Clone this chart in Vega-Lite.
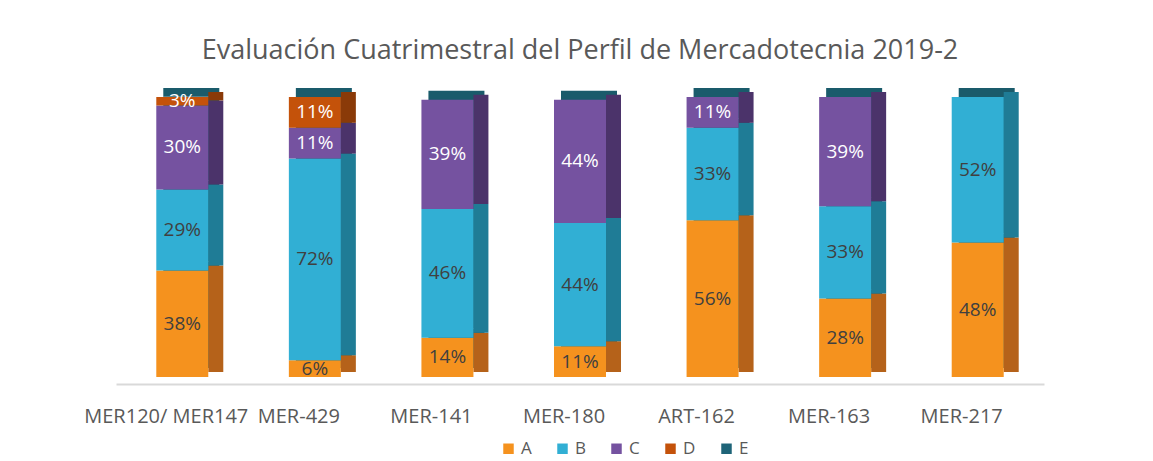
{
  "$schema": "https://vega.github.io/schema/vega-lite/v6.json",
  "width": 928,
  "height": 280,
  "autosize": {"type": "none"},
  "padding": {"left": 116, "top": 97, "right": 109, "bottom": 84},
  "background": "white",
  "title": {
    "text": "Evaluación Cuatrimestral del Perfil de Mercadotecnia 2019-2",
    "font": "Open Sans",
    "fontSize": 27,
    "fontWeight": "normal",
    "color": "#595959",
    "anchor": "middle",
    "offset": 23
  },
  "data": {
    "values": [
      {"cat": "MER120/ MER147", "series": "A", "v": 0.38},
      {"cat": "MER120/ MER147", "series": "B", "v": 0.29},
      {"cat": "MER120/ MER147", "series": "C", "v": 0.30},
      {"cat": "MER120/ MER147", "series": "D", "v": 0.03},
      {"cat": "MER-429", "series": "A", "v": 0.06},
      {"cat": "MER-429", "series": "B", "v": 0.72},
      {"cat": "MER-429", "series": "C", "v": 0.11},
      {"cat": "MER-429", "series": "D", "v": 0.11},
      {"cat": "MER-141", "series": "A", "v": 0.14},
      {"cat": "MER-141", "series": "B", "v": 0.46},
      {"cat": "MER-141", "series": "C", "v": 0.39},
      {"cat": "MER-180", "series": "A", "v": 0.11},
      {"cat": "MER-180", "series": "B", "v": 0.44},
      {"cat": "MER-180", "series": "C", "v": 0.44},
      {"cat": "ART-162", "series": "A", "v": 0.56},
      {"cat": "ART-162", "series": "B", "v": 0.33},
      {"cat": "ART-162", "series": "C", "v": 0.11},
      {"cat": "MER-163", "series": "A", "v": 0.28},
      {"cat": "MER-163", "series": "B", "v": 0.33},
      {"cat": "MER-163", "series": "C", "v": 0.39},
      {"cat": "MER-217", "series": "A", "v": 0.48},
      {"cat": "MER-217", "series": "B", "v": 0.52}
    ]
  },
  "encoding": {
    "x": {
      "field": "cat",
      "type": "nominal",
      "sort": null,
      "scale": {"paddingInner": 0.608, "paddingOuter": 0.304},
      "axis": {
        "title": null,
        "labelAngle": 0,
        "ticks": false,
        "domainColor": "#D9D9D9",
        "domainWidth": 2,
        "offset": 7,
        "labelPadding": 22,
        "labelFont": "Open Sans",
        "labelFontSize": 20,
        "labelColor": "#595959",
        "labelOffset": -16,
        "labelOverlap": false,
        "labelBound": false,
        "labelLimit": 300
      }
    },
    "y": {
      "field": "v",
      "type": "quantitative",
      "stack": "zero",
      "scale": {"domain": [0, 1], "nice": false},
      "axis": null
    },
    "order": {"field": "series", "sort": "ascending"}
  },
  "layer": [
    {
      "mark": {"type": "bar", "size": 56, "xOffset": 9, "yOffset": -9, "color": "#1A5B6B"},
      "encoding": {"detail": {"field": "series"}}
    },
    {
      "mark": {"type": "bar", "size": 15, "xOffset": 33.5, "yOffset": -5},
      "encoding": {
        "color": {
          "field": "series",
          "type": "nominal",
          "scale": {"domain": ["A", "B", "C", "D", "E"], "range": ["#B5621A", "#1F7C96", "#4B336A", "#8A3A08", "#154A58"]},
          "legend": null
        }
      }
    },
    {
      "mark": {"type": "bar", "size": 52},
      "encoding": {
        "color": {
          "field": "series",
          "type": "nominal",
          "scale": {"domain": ["A", "B", "C", "D", "E"], "range": ["#F5921E", "#31AFD4", "#7552A0", "#C4520A", "#1E6478"]},
          "legend": {
            "title": null,
            "orient": "none",
            "legendX": 384,
            "legendY": 343,
            "direction": "horizontal",
            "symbolType": "square",
            "symbolSize": 110,
            "symbolStrokeWidth": 0,
            "labelFont": "Open Sans",
            "labelFontSize": 17,
            "labelColor": "#595959",
            "columnPadding": 22
          }
        }
      }
    },
    {
      "mark": {"type": "text", "font": "Open Sans", "fontSize": 19, "baseline": "middle"},
      "encoding": {
        "y": {"field": "v", "type": "quantitative", "stack": "zero", "bandPosition": 0.5},
        "text": {"field": "v", "type": "quantitative", "format": ".0%"},
        "detail": {"field": "series"},
        "color": {
          "field": "series",
          "type": "nominal",
          "scale": {"domain": ["A", "B", "C", "D", "E"], "range": ["#404040", "#404040", "#FFFFFF", "#FFFFFF", "#404040"]},
          "legend": null
        }
      }
    }
  ],
  "resolve": {"scale": {"color": "independent"}},
  "config": {"view": {"stroke": null}}
}
